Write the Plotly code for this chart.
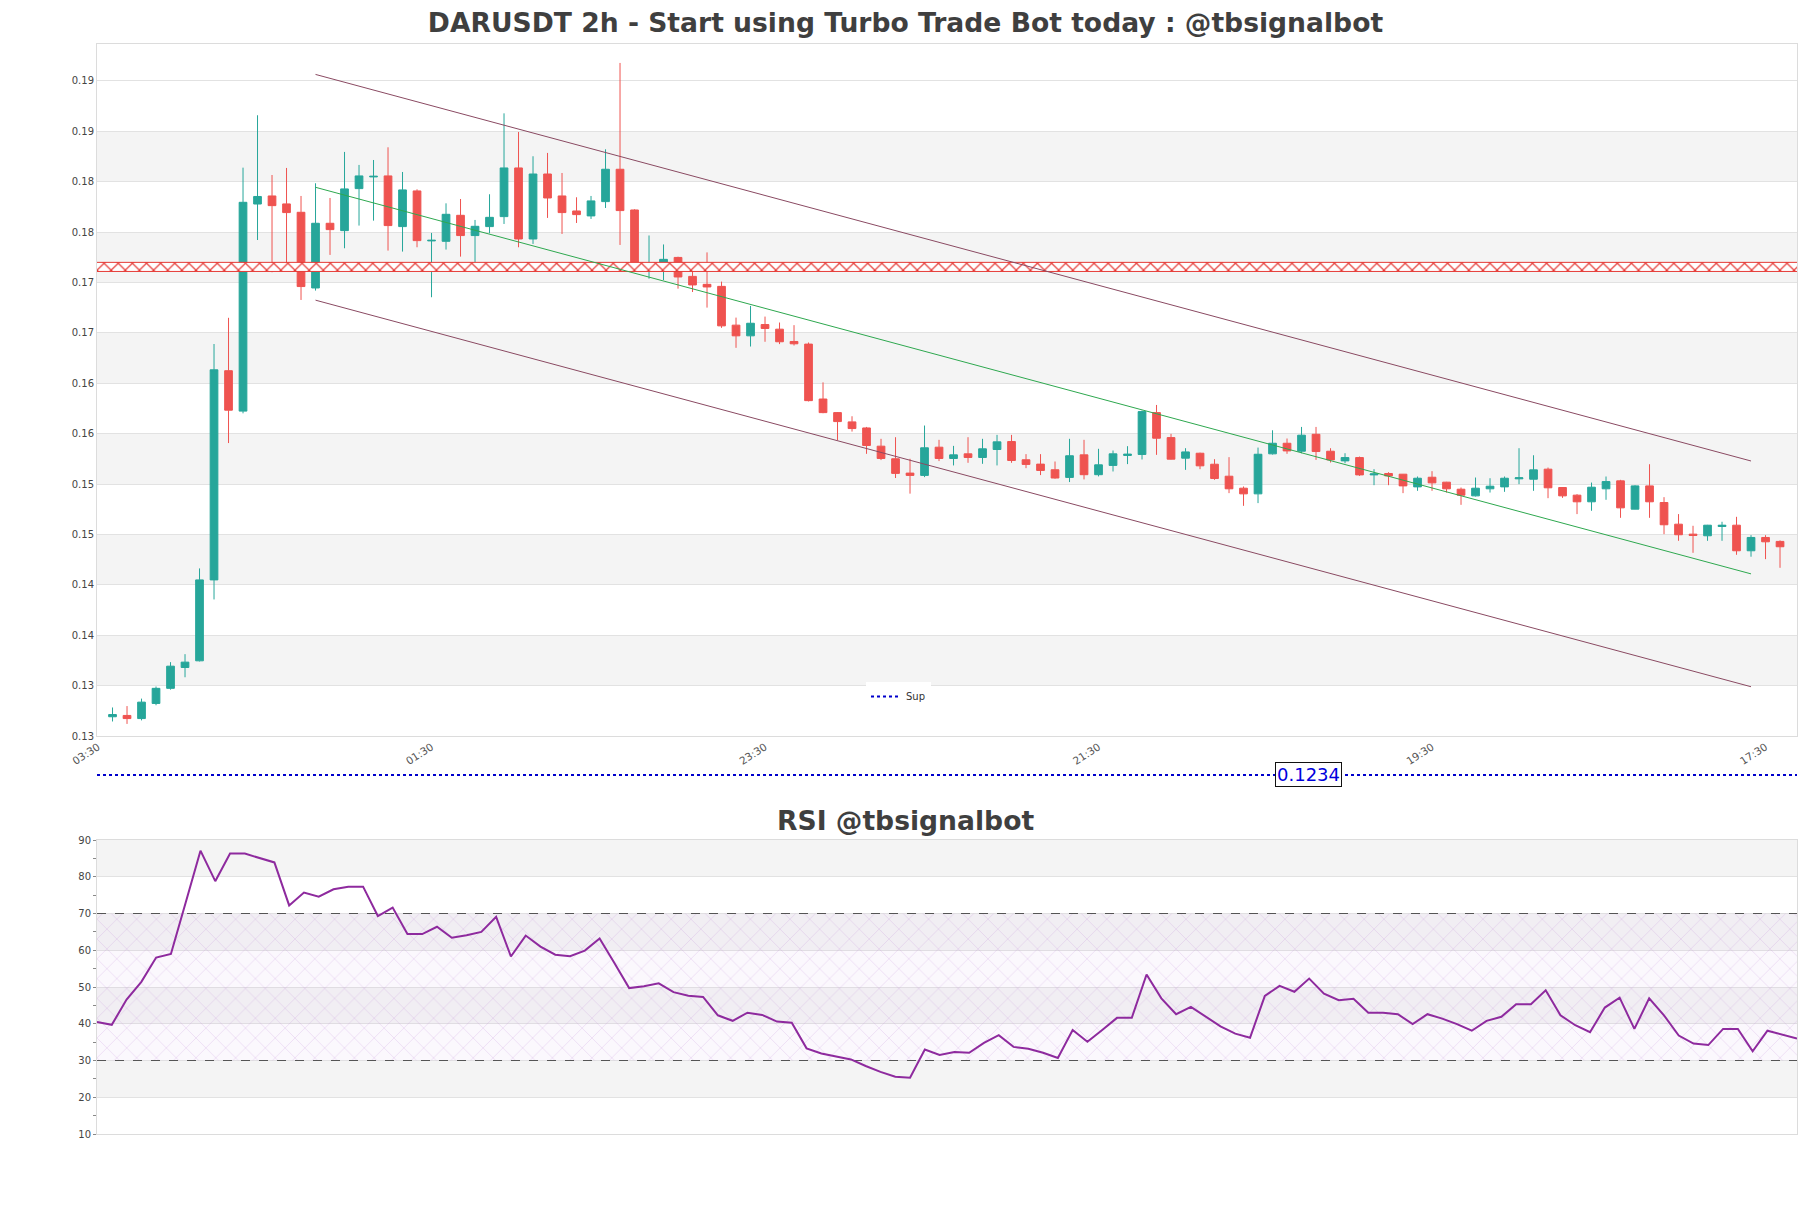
import plotly.graph_objects as go
import pandas as pd

# ---------------- data ----------------
title_text = "DARUSDT 2h - Start using Turbo Trade Bot today : @tbsignalbot"
rsi_title = "RSI @tbsignalbot"
start_time = "2024-03-01 05:30"

open_ = [0.13191, 0.13204, 0.13173, 0.13323, 0.13473, 0.13680, 0.13746, 0.14549, 0.16625, 0.16224,
         0.18279, 0.18359, 0.18280, 0.18197, 0.17446, 0.18088, 0.18015, 0.18432, 0.18548, 0.18558,
         0.18055, 0.18409, 0.17913, 0.17909, 0.18167, 0.17966, 0.18055, 0.18154, 0.18637, 0.17932,
         0.18577, 0.18359, 0.18210, 0.18161, 0.18303, 0.18624, 0.18220, 0.17637, 0.17664, 0.17749,
         0.17561, 0.17482, 0.17462, 0.17077, 0.16971, 0.17083, 0.17037, 0.16915, 0.16889, 0.16344,
         0.16209, 0.16117, 0.16057, 0.15876, 0.15751, 0.15609, 0.15586, 0.15866, 0.15754, 0.15800,
         0.15764, 0.15843, 0.15922, 0.15741, 0.15698, 0.15642, 0.15566, 0.15790, 0.15593, 0.15685,
         0.15784, 0.15794, 0.16209, 0.15961, 0.15757, 0.15806, 0.15697, 0.15578, 0.15459, 0.15403,
         0.15800, 0.15905, 0.15826, 0.15994, 0.15826, 0.15730, 0.15763, 0.15591, 0.15605, 0.15598,
         0.15472, 0.15568, 0.15519, 0.15449, 0.15383, 0.15453, 0.15472, 0.15552, 0.15548, 0.15648,
         0.15466, 0.15390, 0.15324, 0.15453, 0.15532, 0.15251, 0.15482, 0.15317, 0.15102, 0.15003,
         0.14987, 0.15079, 0.15092, 0.14838, 0.14970, 0.14931]
high = [0.13283, 0.13297, 0.13371, 0.13491, 0.13733, 0.13812, 0.14663, 0.16890, 0.17150, 0.18640,
        0.19160, 0.18567, 0.18637, 0.18359, 0.18485, 0.18339, 0.18796, 0.18667, 0.18716, 0.18842,
        0.18597, 0.18425, 0.17992, 0.18286, 0.18329, 0.18121, 0.18376, 0.19179, 0.18994, 0.18753,
        0.18786, 0.18587, 0.18346, 0.18359, 0.18822, 0.19679, 0.18227, 0.17967, 0.17878, 0.17756,
        0.17657, 0.17799, 0.17509, 0.17152, 0.17268, 0.17162, 0.17103, 0.17077, 0.16905, 0.16509,
        0.16215, 0.16173, 0.16067, 0.15949, 0.15965, 0.15751, 0.16081, 0.15939, 0.15879, 0.15965,
        0.15949, 0.15988, 0.15988, 0.15797, 0.15797, 0.15724, 0.15949, 0.15939, 0.15850, 0.15833,
        0.15876, 0.16229, 0.16285, 0.15998, 0.15856, 0.15812, 0.15747, 0.15767, 0.15476, 0.15862,
        0.16034, 0.15952, 0.16067, 0.16067, 0.15856, 0.15806, 0.15773, 0.15648, 0.15618, 0.15600,
        0.15575, 0.15628, 0.15522, 0.15466, 0.15565, 0.15558, 0.15575, 0.15856, 0.15786, 0.15664,
        0.15468, 0.15400, 0.15515, 0.15575, 0.15542, 0.15489, 0.15697, 0.15370, 0.15202, 0.15086,
        0.15095, 0.15126, 0.15175, 0.14993, 0.14993, 0.14941]
low = [0.13144, 0.13120, 0.13155, 0.13305, 0.13460, 0.13583, 0.13740, 0.14355, 0.15907, 0.16202,
       0.17922, 0.17602, 0.17658, 0.17327, 0.17420, 0.17774, 0.17840, 0.18065, 0.18114, 0.17817,
       0.17807, 0.17850, 0.17354, 0.17827, 0.17757, 0.17701, 0.17989, 0.18081, 0.17850, 0.17883,
       0.18141, 0.17982, 0.18091, 0.18131, 0.18240, 0.17873, 0.17618, 0.17538, 0.17525, 0.17439,
       0.17406, 0.17251, 0.17050, 0.16852, 0.16865, 0.16912, 0.16889, 0.16875, 0.16320, 0.16203,
       0.15935, 0.16021, 0.15800, 0.15738, 0.15560, 0.15405, 0.15569, 0.15728, 0.15685, 0.15711,
       0.15701, 0.15685, 0.15711, 0.15658, 0.15589, 0.15553, 0.15520, 0.15546, 0.15576, 0.15625,
       0.15698, 0.15744, 0.15790, 0.15744, 0.15641, 0.15648, 0.15542, 0.15410, 0.15284, 0.15311,
       0.15793, 0.15800, 0.15806, 0.15740, 0.15714, 0.15707, 0.15581, 0.15489, 0.15489, 0.15410,
       0.15433, 0.15433, 0.15416, 0.15294, 0.15377, 0.15416, 0.15423, 0.15499, 0.15433, 0.15360,
       0.15363, 0.15202, 0.15235, 0.15344, 0.15165, 0.15250, 0.15165, 0.15003, 0.14937, 0.14818,
       0.14937, 0.14937, 0.14798, 0.14779, 0.14755, 0.14669]
close = [0.13213, 0.13173, 0.13336, 0.13473, 0.13693, 0.13733, 0.14549, 0.16634, 0.16233, 0.18296,
         0.18354, 0.18263, 0.18194, 0.17460, 0.18088, 0.18025, 0.18429, 0.18558, 0.18554, 0.18065,
         0.18419, 0.17916, 0.17919, 0.18177, 0.17966, 0.18058, 0.18147, 0.18637, 0.17932, 0.18577,
         0.18339, 0.18194, 0.18174, 0.18310, 0.18624, 0.18214, 0.17625, 0.17660, 0.17730, 0.17555,
         0.17476, 0.17456, 0.17070, 0.16971, 0.17096, 0.17044, 0.16912, 0.16892, 0.16328, 0.16209,
         0.16120, 0.16051, 0.15883, 0.15754, 0.15606, 0.15586, 0.15860, 0.15754, 0.15790, 0.15764,
         0.15850, 0.15919, 0.15734, 0.15695, 0.15635, 0.15560, 0.15781, 0.15593, 0.15691, 0.15800,
         0.15797, 0.16219, 0.15955, 0.15747, 0.15819, 0.15681, 0.15555, 0.15453, 0.15403, 0.15796,
         0.15905, 0.15829, 0.15985, 0.15823, 0.15740, 0.15763, 0.15591, 0.15601, 0.15581, 0.15482,
         0.15558, 0.15512, 0.15453, 0.15390, 0.15459, 0.15479, 0.15558, 0.15562, 0.15641, 0.15463,
         0.15383, 0.15324, 0.15469, 0.15525, 0.15264, 0.15482, 0.15324, 0.15096, 0.14997, 0.14990,
         0.15092, 0.15092, 0.14838, 0.14970, 0.14927, 0.14878]

rsi = [40.5, 39.7, 46.6, 51.4, 58.0, 59.0, 73.0, 87.1, 78.8, 86.3,
       86.3, 85.2, 83.9, 72.2, 75.7, 74.6, 76.6, 77.3, 77.3, 69.3,
       71.6, 64.4, 64.4, 66.4, 63.4, 64.1, 65.0, 69.1, 58.3, 64.0,
       61.0, 58.8, 58.4, 59.9, 63.2, 56.5, 49.7, 50.2, 51.0, 48.6,
       47.6, 47.3, 42.3, 40.8, 43.0, 42.4, 40.6, 40.3, 33.3, 31.9,
       31.0, 30.3, 28.5, 26.9, 25.6, 25.3, 33.0, 31.5, 32.3, 32.1,
       34.8, 36.9, 33.7, 33.2, 32.1, 30.7, 38.3, 35.1, 38.3, 41.6,
       41.6, 53.4, 46.9, 42.6, 44.6, 41.9, 39.3, 37.3, 36.2, 47.6,
       50.3, 48.7, 52.3, 48.2, 46.4, 46.8, 43.0, 43.0, 42.6, 39.9,
       42.6, 41.4, 39.9, 38.1, 40.8, 41.9, 45.3, 45.3, 49.1, 42.3,
       39.6, 37.7, 44.4, 47.1, 38.6, 46.9, 42.3, 36.8, 34.6, 34.2,
       38.6, 38.6, 32.5, 38.1, 37.1, 36.0]

# trend channel (start candle index, end candle index) and prices
channel_idx = [14, 113]
channel_mid = [0.18445, 0.14609]
channel_upper = [0.19565, 0.15729]
channel_lower = [0.17325, 0.13489]

# resistance zone
zone_low, zone_high = 0.1761, 0.1770

# support level
sup_level = 0.1234
sup_label = "0.1234"

# rsi levels
rsi_upper, rsi_lower = 70, 30

# y tick values / labels of price axis
price_ticks = [0.13, 0.135, 0.14, 0.145, 0.15, 0.155, 0.16, 0.165, 0.17, 0.175, 0.18, 0.185, 0.19, 0.195]
price_ticktext = ["0.13", "0.13", "0.14", "0.14", "0.15", "0.15", "0.16", "0.16",
                  "0.17", "0.17", "0.18", "0.18", "0.19", "0.19"]
price_bands = [(0.135, 0.14), (0.145, 0.15), (0.155, 0.16), (0.165, 0.17), (0.175, 0.18), (0.185, 0.19)]
rsi_ticks = [10, 20, 30, 40, 50, 60, 70, 80, 90]
rsi_bands = [(20, 30), (40, 50), (60, 70), (80, 90)]

# ---------------- figure ----------------
times = pd.date_range(start_time, periods=len(open_), freq="2h")
step = pd.Timedelta(hours=2)
x_start = times[0] - 1.07 * step
x_end = times[-1] + 1.17 * step

W, H = 1811, 1208
ML, MR, MT, MB = 97, 14, 44, 74
PH = H - MT - MB
PW = W - ML - MR


def py(ypix):
    return (H - MB - ypix) / PH


GREEN = "#26a69a"
RED = "#ef5350"
FONT = "DejaVu Sans"
CLEAR = "rgba(255,255,255,0)"

fig = go.Figure()

# resistance zone
fig.add_trace(go.Scatter(x=[x_start, x_end], y=[zone_high, zone_high], mode="lines",
                         line=dict(color="#e53935", width=1), showlegend=False, hoverinfo="skip",
                         xaxis="x", yaxis="y"))
fig.add_trace(go.Scatter(x=[x_start, x_end], y=[zone_low, zone_low], mode="lines",
                         line=dict(color="#e53935", width=1), fill="tonexty",
                         fillcolor=CLEAR,
                         fillpattern=dict(shape="x", fgcolor="#e53935", bgcolor="white",
                                          size=10, solidity=0.22, fillmode="replace"),
                         showlegend=False, hoverinfo="skip", xaxis="x", yaxis="y"))

# candles
fig.add_trace(go.Candlestick(x=times, open=open_, high=high, low=low, close=close,
                             increasing=dict(line=dict(color=GREEN, width=1), fillcolor=GREEN),
                             decreasing=dict(line=dict(color=RED, width=1), fillcolor=RED),
                             whiskerwidth=0, showlegend=False, xaxis="x", yaxis="y"))

# channel
ch_x = [times[i] for i in channel_idx]
for ys, col in [(channel_upper, "#8a4a62"), (channel_lower, "#8a4a62"), (channel_mid, "#2ea84f")]:
    fig.add_trace(go.Scatter(x=ch_x, y=ys, mode="lines", line=dict(color=col, width=1),
                             showlegend=False, hoverinfo="skip", xaxis="x", yaxis="y"))

# support line
fig.add_trace(go.Scatter(x=[x_start, x_end], y=[sup_level, sup_level], mode="lines", name="Sup",
                         line=dict(color="#0000cc", width=2, dash="dot"),
                         showlegend=True, xaxis="x", yaxis="y3"))

# RSI zone + levels
fig.add_trace(go.Scatter(x=[times[0], times[-1]], y=[rsi_upper, rsi_upper], mode="lines",
                         line=dict(color="#555555", width=1.2, dash="dash"),
                         showlegend=False, hoverinfo="skip", xaxis="x2", yaxis="y2"))
fig.add_trace(go.Scatter(x=[times[0], times[-1]], y=[rsi_lower, rsi_lower], mode="lines",
                         line=dict(color="#555555", width=1.2, dash="dash"), fill="tonexty",
                         fillcolor=CLEAR,
                         fillpattern=dict(shape="x", fgcolor="rgba(190,130,215,0.5)",
                                          bgcolor="rgba(200,150,225,0.07)",
                                          size=14, solidity=0.06, fillmode="replace"),
                         showlegend=False, hoverinfo="skip", xaxis="x2", yaxis="y2"))
fig.add_trace(go.Scatter(x=times, y=rsi, mode="lines", line=dict(color="#8e2a9e", width=2),
                         showlegend=False, xaxis="x2", yaxis="y2"))

shapes = []
for a, b in price_bands:
    shapes.append(dict(type="rect", xref="x domain", yref="y", x0=0, x1=1, y0=a, y1=b,
                       fillcolor="#f4f4f4", line=dict(width=0), layer="below"))
for a, b in rsi_bands:
    shapes.append(dict(type="rect", xref="x2 domain", yref="y2", x0=0, x1=1, y0=a, y1=b,
                       fillcolor="#f4f4f4", line=dict(width=0), layer="below"))

main_dom = [py(736), 1.0]
rsi_dom = [0.0, py(840)]
sup_c = py(775)

fig.update_layout(
    width=W, height=H,
    margin=dict(l=ML, r=MR, t=MT, b=MB),
    paper_bgcolor="white", plot_bgcolor="white",
    font=dict(family=FONT, size=10, color="#444444"),
    title=dict(text=title_text, x=0.5, xref="container", xanchor="center",
               y=1 - 23 / H, yref="container", yanchor="middle",
               font=dict(family=FONT, size=26.6, color="#3f3f3f", weight="bold")),
    boxgap=0.24,
    shapes=shapes,
    xaxis=dict(domain=[0, 1], anchor="y", type="date", range=[x_start, x_end],
               rangeslider=dict(visible=False), showgrid=False,
               tick0=times[0] - step, dtick=46 * 3600 * 1000, tickformat="%H:%M",
               tickangle=-33, tickfont=dict(size=10.5, color="#555555"),
               showline=True, mirror=True, linecolor="#dcdcdc", linewidth=1, zeroline=False),
    yaxis=dict(domain=main_dom, anchor="x", range=[0.13, 0.19867],
               tickvals=price_ticks, ticktext=price_ticktext,
               tickfont=dict(size=10, color="#444444"),
               showgrid=True, gridcolor="#e2e2e2", gridwidth=1,
               showline=True, mirror=True, linecolor="#dcdcdc", zeroline=False),
    yaxis3=dict(domain=[sup_c - 0.01, sup_c + 0.01], anchor="x",
                range=[sup_level - 0.01, sup_level + 0.01], visible=False),
    xaxis2=dict(domain=[0, 1], anchor="y2", type="date", range=[times[0], times[-1]],
                showticklabels=False, showgrid=False, showline=True, mirror=True,
                linecolor="#dcdcdc", zeroline=False),
    yaxis2=dict(domain=rsi_dom, anchor="x2", range=[10, 90], tickvals=rsi_ticks,
                tickfont=dict(size=10, color="#444444"), ticks="outside", ticklen=3,
                tickcolor="#888888",
                minor=dict(dtick=5, ticks="outside", ticklen=3, tickcolor="#888888", showgrid=False),
                showgrid=True, gridcolor="#e2e2e2", showline=True, mirror=True,
                linecolor="#dcdcdc", zeroline=False),
    legend=dict(x=(866 - ML) / PW, y=py(682), xanchor="left", yanchor="top",
                bgcolor="white", font=dict(size=10, color="#333333"), orientation="h",
                itemwidth=30),
    annotations=[
        dict(text=rsi_title, xref="paper", yref="paper", x=(905 - ML) / PW, y=py(820),
             xanchor="center", yanchor="middle", showarrow=False,
             font=dict(family=FONT, size=26.6, color="#3f3f3f", weight="bold")),
        dict(text=sup_label, xref="paper", yref="y3", x=(1308 - ML) / PW, y=sup_level,
             xanchor="center", yanchor="middle", showarrow=False,
             font=dict(family=FONT, size=18, color="#0000dd"),
             bgcolor="white", bordercolor="#111111", borderwidth=1, borderpad=1),
    ],
)

fig.write_html("out.html")
